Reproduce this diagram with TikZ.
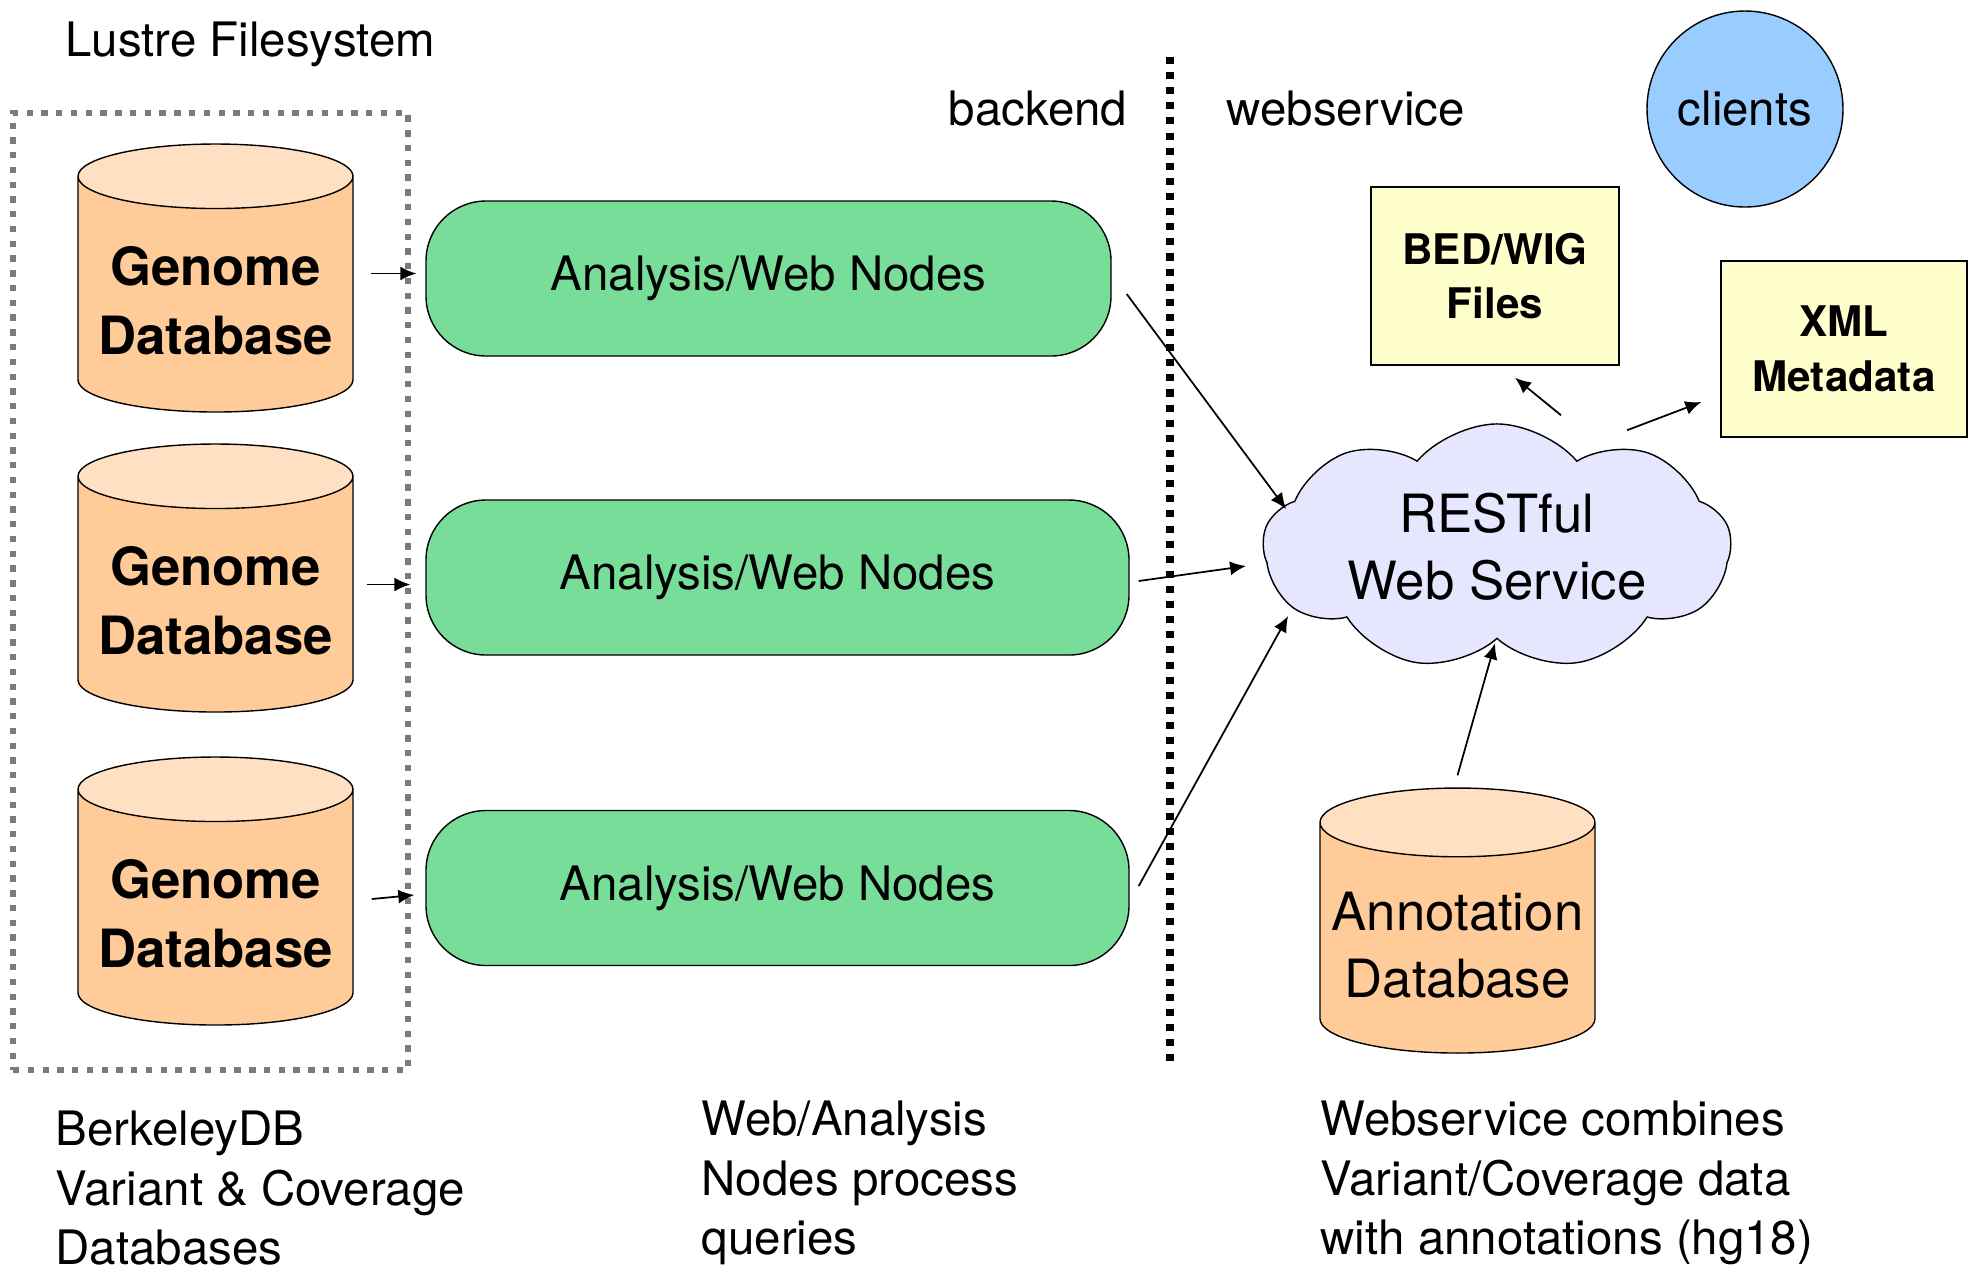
\documentclass[tikz,border=0pt]{standalone}
\usepackage{fontspec}
\setmainfont{TeX Gyre Heros}
\usetikzlibrary{shapes.geometric, shapes.symbols, arrows.meta, positioning}

\definecolor{dbbody}{HTML}{FFCC99}
\definecolor{dbtop}{HTML}{FFE0C2}
\definecolor{nodegreen}{HTML}{77DD99}
\definecolor{fileyellow}{HTML}{FFFFCC}
\definecolor{cloudlilac}{HTML}{E6E6FF}
\definecolor{clientblue}{HTML}{99CCFF}
\definecolor{boxgray}{HTML}{7A7A7A}

\begin{document}
\begin{tikzpicture}
% Define styles
\tikzstyle{plain} = [inner sep=0pt, font=\fontsize{13.5}{17}\selectfont]
\tikzstyle{caption} = [plain, align=left, anchor=north west]
\tikzstyle{genome} = [cylinder, shape border rotate=90, aspect=0.25, draw, minimum height=2.68cm, minimum width=2.75cm, cylinder uses custom fill, cylinder body fill=dbbody, cylinder end fill=dbtop, align=center, font=\fontsize{15}{19.6}\selectfont\bfseries]
\tikzstyle{annotdb} = [genome, font=\fontsize{15}{19}\selectfont, minimum height=2.65cm]
\tikzstyle{webnode} = [rectangle, rounded corners=0.6cm, draw, fill=nodegreen, minimum height=1.55cm, font=\fontsize{13.5}{17}\selectfont]
\tikzstyle{filebox} = [rectangle, draw, fill=fileyellow, align=center, font=\fontsize{12}{15.6}\selectfont\bfseries]
\tikzstyle{client} = [circle, draw, fill=clientblue, minimum size=1.96cm, font=\fontsize{13.5}{17}\selectfont]
\tikzstyle{rest} = [cloud, cloud puffs=9, cloud puff arc=100, cloud ignores aspect, draw, fill=cloudlilac, minimum width=4.68cm, minimum height=2.26cm, align=center, font=\fontsize{15}{19}\selectfont]
\tikzstyle{fsbox} = [rectangle, draw=boxgray, line width=1.8pt, dash pattern=on 1.8pt off 2.4pt]
\tikzstyle{divider} = [line width=2pt, dash pattern=on 2pt off 2.3pt]
\tikzstyle{arrow} = [line width=0.5pt, -{Latex[length=0.16cm, width=0.14cm]}]

\useasboundingbox (0,0) rectangle (19.71,-12.66);

% Nodes
\node (lustre) [plain, anchor=west] at (0.65,-0.44) {Lustre Filesystem};
\node (lustrebox) [fsbox, minimum width=3.95cm, minimum height=9.57cm] at (2.105,-5.915) {};
\node (genomeA) [genome] at (2.155,-3.01) {Genome\\Database};
\node (genomeB) [genome] at (2.155,-6.01) {Genome\\Database};
\node (genomeC) [genome] at (2.155,-9.14) {Genome\\Database};

\node (webA) [webnode, minimum width=6.85cm] at (7.685,-2.785) {Analysis/Web Nodes};
\node (webB) [webnode, minimum width=7.03cm] at (7.775,-5.775) {Analysis/Web Nodes};
\node (webC) [webnode, minimum width=7.03cm] at (7.775,-8.88) {Analysis/Web Nodes};

\coordinate (divtop) at (11.70,-0.57);
\coordinate (divbot) at (11.70,-10.62);
\node (backend) [plain, anchor=east] at (11.28,-1.09) {backend};
\node (websvc) [plain, anchor=west] at (12.26,-1.09) {webservice};

\node (clients) [client] at (17.45,-1.09) {clients};
\node (bedwig) [filebox, minimum width=2.48cm, minimum height=1.78cm] at (14.95,-2.76) {BED/WIG\\Files};
\node (xmlmeta) [filebox, minimum width=2.46cm, minimum height=1.76cm] at (18.44,-3.49) {XML\\Metadata};
\node (restful) [rest] at (14.97,-5.47) {RESTful\\Web Service};
\node (annot) [annotdb] at (14.575,-9.45) {Annotation\\Database};

\node (capA) [caption] at (0.55,-11.10) {BerkeleyDB\\Variant \& Coverage\\Databases};
\node (capB) [caption] at (7.01,-11.00) {Web/Analysis\\Nodes process\\queries};
\node (capC) [caption] at (13.20,-11.00) {Webservice combines\\Variant/Coverage data\\with annotations (hg18)};

% Connections
\draw [divider] (divtop) -- (divbot);
\draw [arrow] ([xshift=0.17cm, yshift=0.05cm]genomeA.east |- webA.west) -- ([xshift=-0.09cm, yshift=0.05cm]webA.west);
\draw [arrow] ([xshift=0.13cm, yshift=-0.07cm]genomeB.east |- webB.west) -- ([xshift=-0.15cm, yshift=-0.07cm]webB.west);
\draw [arrow] ([xshift=0.18cm, yshift=-0.11cm]genomeC.east |- webC.west) -- ([xshift=-0.11cm, yshift=-0.07cm]webC.west);
\draw [arrow] ([xshift=0.15cm, yshift=-0.155cm]webA.east) -- ([xshift=0.24cm, yshift=0.38cm]restful.west);
\draw [arrow] ([xshift=0.09cm, yshift=-0.035cm]webB.east) -- ([xshift=-0.16cm, yshift=-0.19cm]restful.west);
\draw [arrow] ([xshift=0.09cm, yshift=0.02cm]webC.east) -- ([xshift=0.26cm, yshift=-0.69cm]restful.west);
\draw [arrow] ([xshift=0.64cm, yshift=0.08cm]restful.north) -- ([xshift=0.2cm, yshift=-0.12cm]bedwig.south);
\draw [arrow] ([xshift=1.30cm, yshift=-0.07cm]restful.north) -- ([xshift=-0.19cm, yshift=-0.53cm]xmlmeta.west);
\draw [arrow] ([yshift=0.12cm]annot.north) -- ([xshift=-0.02cm, yshift=-0.04cm]restful.south);

\end{tikzpicture}
\end{document}
